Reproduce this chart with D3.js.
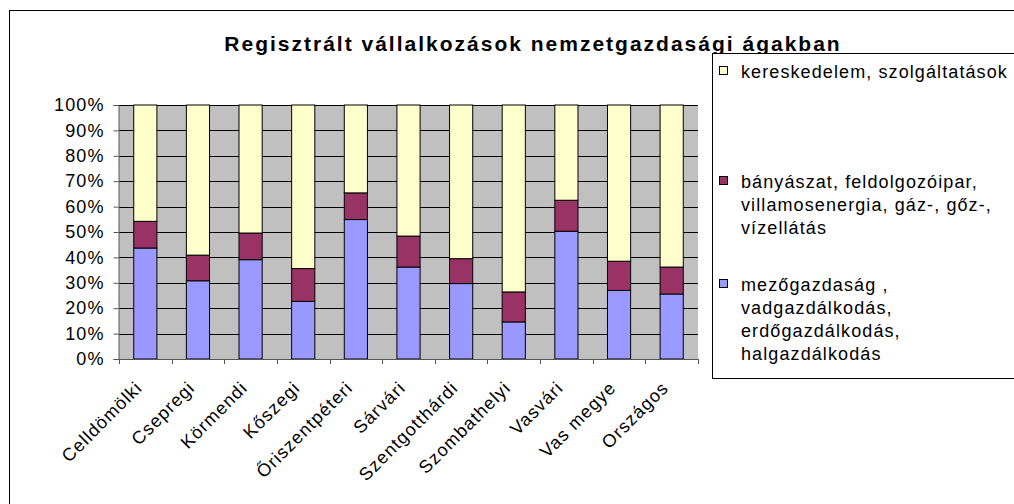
<!DOCTYPE html>
<html>
<head>
<meta charset="utf-8">
<script src="https://cdn.jsdelivr.net/npm/d3@7"></script>
<style>
  body { margin: 0; background: #fff; }
  svg { display: block; font-family: "Liberation Sans", Arial, sans-serif; }
  .lbl { font-size: 18px; letter-spacing: 1.1px; }
</style>
</head>
<body>
<div id="chart"></div>
<script>
// data (percent of registered enterprises)
var categories = ["Celldömölki", "Csepregi", "Körmendi", "Kőszegi", "Őriszentpéteri", "Sárvári",
    "Szentgotthárdi", "Szombathelyi", "Vasvári", "Vas megye", "Országos"];
var mezogazdasag = [43.7, 30.8, 39.1, 22.7, 54.9, 36.2, 29.7, 14.6, 50.3, 27.0, 25.6];
var banyaszat = [10.5, 10.1, 10.5, 12.9, 10.5, 12.2, 9.8, 11.8, 12.2, 11.5, 10.6];
var kereskedelem = [45.8, 59.1, 50.4, 64.4, 34.6, 51.6, 60.5, 73.6, 37.5, 61.5, 63.8];
var yTicks = [0, 10, 20, 30, 40, 50, 60, 70, 80, 90, 100];

var seriesKeys = ["mezo", "bany", "ker"];
var seriesColors = { mezo: "#9999FF", bany: "#993366", ker: "#FFFFCC" };
var legendItems = [
    { key: "ker", lines: ["kereskedelem, szolgáltatások"], y: 78 },
    { key: "bany", lines: ["bányászat, feldolgozóipar,", "villamosenergia, gáz-, gőz-,", "vízellátás"], y: 188 },
    { key: "mezo", lines: ["mezőgazdaság ,", "vadgazdálkodás,", "erdőgazdálkodás,", "halgazdálkodás"], y: 291 }
];

var W = 1014, H = 504;
var plot = { left: 119, top: 105, right: 698, bottom: 359 };

var svg = d3.select("#chart").append("svg")
    .attr("width", W)
    .attr("height", H);

// outer chart frame
svg.append("rect")
    .attr("x", 9.5).attr("y", 10.5)
    .attr("width", W).attr("height", H)
    .attr("fill", "#fff")
    .attr("stroke", "#000");

// title
svg.append("text")
    .attr("x", 533).attr("y", 51)
    .attr("text-anchor", "middle")
    .style("font-weight", "bold")
    .style("font-size", "21px")
    .style("letter-spacing", "2px")
    .text("Regisztrált vállalkozások nemzetgazdasági ágakban");

var rows = categories.map(function (c, i) {
    return { cat: c, mezo: mezogazdasag[i], bany: banyaszat[i], ker: kereskedelem[i] };
});
var stacked = d3.stack().keys(seriesKeys).offset(d3.stackOffsetExpand)(rows);

var x = d3.scaleBand()
    .domain(categories)
    .range([plot.left, plot.right])
    .paddingInner(0.56)
    .paddingOuter(0.28);

var y = d3.scaleLinear()
    .domain([0, 1])
    .range([plot.bottom, plot.top]);

// plot background
svg.append("rect")
    .attr("x", plot.left).attr("y", plot.top)
    .attr("width", plot.right - plot.left)
    .attr("height", plot.bottom - plot.top)
    .attr("fill", "#C0C0C0");

// gridlines
svg.append("g")
    .selectAll("line")
    .data(yTicks.slice(1))
    .enter().append("line")
    .attr("x1", plot.left).attr("x2", plot.right)
    .attr("y1", function (d) { return Math.round(y(d / 100)) + 0.5; })
    .attr("y2", function (d) { return Math.round(y(d / 100)) + 0.5; })
    .attr("stroke", "#000")
    .attr("stroke-width", 1);

// bars
svg.append("g")
    .selectAll("g")
    .data(stacked)
    .enter().append("g")
    .attr("fill", function (d) { return seriesColors[d.key]; })
    .selectAll("rect")
    .data(function (d) { return d; })
    .enter().append("rect")
    .attr("x", function (d) { return x(d.data.cat); })
    .attr("y", function (d) { return y(d[1]); })
    .attr("width", x.bandwidth())
    .attr("height", function (d) { return y(d[0]) - y(d[1]); })
    .attr("stroke", "#000")
    .attr("stroke-width", 1);

// y axis
var yAxis = d3.axisLeft(y)
    .tickValues(yTicks.map(function (d) { return d / 100; }))
    .tickFormat(function (d) { return Math.round(d * 100) + "%"; })
    .tickSize(5)
    .tickPadding(9);
var gy = svg.append("g")
    .attr("transform", "translate(" + (plot.left - 0.5) + ",0)")
    .call(yAxis);
gy.attr("font-size", null).attr("font-family", null);
gy.selectAll("text").attr("class", "lbl").attr("fill", "#000");
gy.selectAll("line, path").attr("stroke", "#555");

// x axis: tick marks between categories
var step = x.step();
var gx = svg.append("g");
gx.append("line")
    .attr("x1", plot.left).attr("x2", plot.right)
    .attr("y1", plot.bottom + 0.5).attr("y2", plot.bottom + 0.5)
    .attr("stroke", "#555");
gx.selectAll("line.tk")
    .data(d3.range(categories.length + 1))
    .enter().append("line")
    .attr("class", "tk")
    .attr("x1", function (i) { return Math.round(plot.left + i * step) + 0.5; })
    .attr("x2", function (i) { return Math.round(plot.left + i * step) + 0.5; })
    .attr("y1", plot.bottom).attr("y2", plot.bottom + 5)
    .attr("stroke", "#555");
gx.selectAll("text")
    .data(categories)
    .enter().append("text")
    .attr("class", "lbl")
    .attr("transform", function (d) {
        return "translate(" + (x(d) + x.bandwidth() / 2 - 2) + "," + (plot.bottom + 30) + ") rotate(-45)";
    })
    .attr("text-anchor", "end")
    .text(function (d) { return d; });

// legend
var legend = svg.append("g");
legend.append("rect")
    .attr("x", 712.5).attr("y", 53.5)
    .attr("width", 400).attr("height", 325)
    .attr("fill", "#fff")
    .attr("stroke", "#000");
legendItems.forEach(function (item) {
    legend.append("rect")
        .attr("x", 719.5).attr("y", item.y - 11.5)
        .attr("width", 8).attr("height", 8)
        .attr("fill", seriesColors[item.key])
        .attr("stroke", "#000");
    var t = legend.append("text")
        .attr("class", "lbl")
        .attr("x", 741).attr("y", item.y);
    item.lines.forEach(function (ln, j) {
        t.append("tspan")
            .attr("x", 741)
            .attr("dy", j === 0 ? 0 : 23)
            .text(ln);
    });
});
</script>
</body>
</html>
